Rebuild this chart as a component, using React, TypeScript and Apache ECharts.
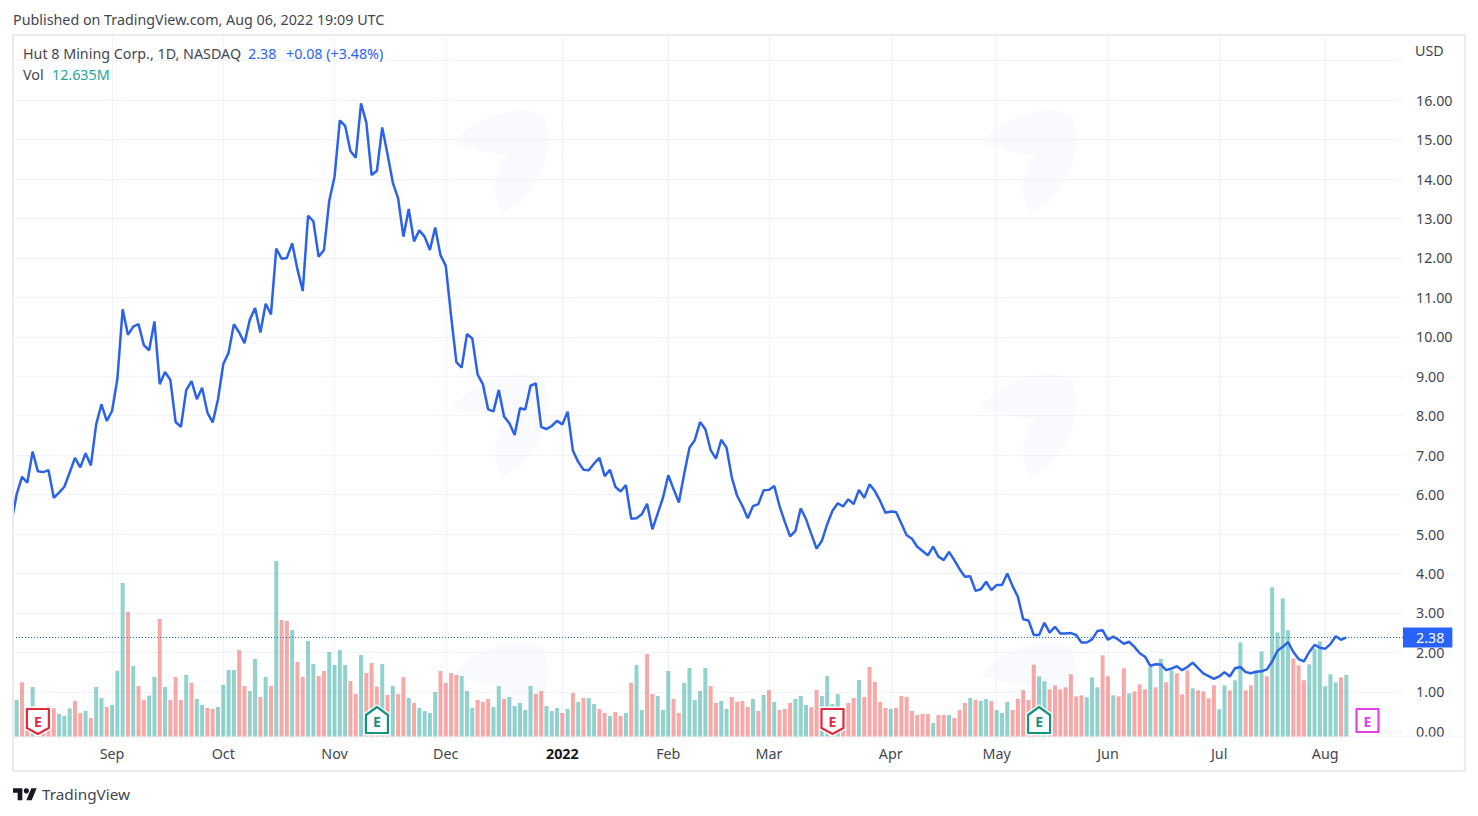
import React, { useEffect, useRef } from "react";
import * as echarts from "echarts";

const PRICES = [
  5.29, 6.01, 6.45, 6.30, 7.09, 6.59, 6.57, 6.62, 5.92, 6.05, 6.20, 6.56, 6.93, 6.69, 7.05, 6.74, 7.78, 8.29, 7.87, 8.12,
  8.93, 10.70, 10.05, 10.26, 10.32, 9.79, 9.66, 10.39, 8.80, 9.11, 8.91, 7.84, 7.72, 8.65, 8.88, 8.42, 8.71, 8.08, 7.83, 8.42,
  9.31, 9.60, 10.32, 10.11, 9.84, 10.43, 10.73, 10.11, 10.84, 10.57, 12.24, 11.98, 12.00, 12.37, 11.71, 11.16, 13.07, 12.93, 12.03, 12.20,
  13.45, 14.06, 15.49, 15.35, 14.71, 14.54, 15.92, 15.43, 14.10, 14.21, 15.31, 14.63, 13.91, 13.51, 12.54, 13.24, 12.42, 12.70, 12.54, 12.20,
  12.77, 12.07, 11.80, 10.53, 9.36, 9.22, 10.07, 9.96, 9.05, 8.80, 8.16, 8.11, 8.65, 7.98, 7.81, 7.51, 8.19, 8.16, 8.76, 8.82,
  7.72, 7.66, 7.74, 7.87, 7.78, 8.10, 7.11, 6.83, 6.63, 6.62, 6.79, 6.93, 6.47, 6.63, 6.20, 6.08, 6.24, 5.39, 5.40, 5.50,
  5.77, 5.12, 5.52, 5.92, 6.49, 6.14, 5.80, 6.52, 7.19, 7.38, 7.84, 7.66, 7.13, 6.91, 7.39, 7.19, 6.43, 5.97, 5.71, 5.40,
  5.71, 5.76, 6.11, 6.12, 6.22, 5.71, 5.31, 4.94, 5.08, 5.65, 5.38, 5.00, 4.63, 4.83, 5.25, 5.59, 5.78, 5.70, 5.88, 5.76,
  6.12, 5.92, 6.26, 6.09, 5.84, 5.54, 5.57, 5.56, 5.27, 4.97, 4.88, 4.68, 4.57, 4.46, 4.68, 4.43, 4.34, 4.55, 4.34, 4.11,
  3.92, 3.93, 3.56, 3.60, 3.79, 3.58, 3.71, 3.71, 4.00, 3.68, 3.41, 2.84, 2.81, 2.44, 2.44, 2.75, 2.50, 2.65, 2.48, 2.48,
  2.49, 2.44, 2.25, 2.25, 2.33, 2.54, 2.56, 2.32, 2.40, 2.32, 2.22, 2.27, 2.14, 1.98, 1.89, 1.66, 1.70, 1.69, 1.55, 1.59,
  1.65, 1.55, 1.63, 1.74, 1.60, 1.47, 1.40, 1.33, 1.39, 1.50, 1.39, 1.60, 1.63, 1.50, 1.47, 1.51, 1.52, 1.57, 1.77, 2.04,
  2.14, 2.26, 2.01, 1.83, 1.77, 2.01, 2.19, 2.12, 2.09, 2.21, 2.41, 2.32, 2.38,
];

const VOLUMES = [
  5.70, 7.54, 11.14, 5.50, 10.19, 6.18, 5.16, 6.31, 5.84, 4.69, 4.28, 5.84, 7.33, 4.89, 5.30, 3.87, 10.19, 7.94, 6.11, 6.52,
  13.51, 31.37, 25.53, 14.46, 10.39, 7.54, 8.42, 12.22, 24.04, 10.19, 7.54, 12.22, 7.54, 12.63, 11.00, 7.74, 6.52, 5.91, 5.70, 6.11,
  10.59, 13.65, 13.65, 17.72, 10.39, 9.37, 15.89, 8.15, 12.22, 10.39, 35.85, 23.83, 23.63, 21.80, 15.28, 12.22, 19.56, 14.87, 12.43, 13.44,
  17.31, 14.67, 17.72, 14.67, 11.41, 8.76, 16.70, 13.04, 15.07, 10.25, 14.87, 8.56, 10.39, 8.76, 12.22, 7.94, 6.93, 5.91, 5.30, 4.89,
  9.17, 13.44, 11.00, 13.04, 12.63, 12.43, 9.37, 5.91, 7.54, 7.13, 7.74, 6.11, 10.39, 7.74, 8.15, 6.31, 6.93, 5.50, 10.39, 8.76,
  9.37, 6.31, 5.30, 5.91, 4.89, 5.70, 8.96, 7.13, 7.94, 7.94, 6.72, 5.70, 4.89, 4.28, 5.09, 4.28, 4.89, 11.00, 14.67, 5.50,
  16.91, 8.76, 8.35, 5.50, 13.44, 7.74, 4.89, 11.00, 14.06, 7.54, 9.37, 14.06, 10.39, 6.93, 7.33, 5.70, 8.15, 7.20, 7.33, 6.11,
  7.74, 5.30, 8.56, 9.57, 7.13, 5.50, 5.70, 6.93, 7.74, 8.35, 6.52, 6.11, 9.57, 8.35, 12.43, 6.72, 8.76, 5.50, 6.93, 7.94,
  11.61, 8.15, 14.26, 11.20, 7.13, 5.91, 5.70, 5.91, 8.35, 8.15, 5.30, 4.48, 4.69, 4.69, 2.85, 4.48, 4.48, 4.48, 3.87, 5.50,
  6.93, 7.94, 7.54, 7.33, 7.74, 7.33, 5.50, 4.89, 7.13, 5.50, 7.74, 9.57, 7.54, 14.73, 12.36, 11.34, 9.71, 10.52, 9.71, 10.12,
  12.77, 8.28, 8.49, 8.08, 12.15, 10.12, 16.64, 12.36, 8.49, 8.28, 13.99, 8.89, 9.30, 10.73, 9.71, 14.26, 10.12, 15.96, 11.14, 13.58,
  12.97, 8.69, 13.58, 9.91, 9.51, 9.30, 7.88, 10.52, 5.64, 10.52, 9.51, 11.54, 19.28, 9.51, 10.52, 13.58, 17.45, 12.36, 30.49, 21.32,
  28.25, 21.73, 16.02, 14.60, 11.54, 14.80, 17.99, 19.49, 10.32, 12.77, 11.14, 12.15, 12.635,
];

// t = rising (teal) volume bar, r = falling (red) volume bar
const VOLUME_SIDES = [
  "t", "trrtrrrrtt", "trrtrttrtt", "trtrrttrtr", "rrtrttrrtt", "ttrrttrtrt", "rrtrrttrrt", "tttrrtrrrt", "rtrrtrtttt", "rrrrtttrrr",
  "ttrtttttrr", "tttrtrtrtt", "rrtrrtrttr", "rtttrrtttt", "trrttrrrrt", "rtrtrrrttt", "rrttttrrrt", "rrrrrtrrrr", "rrrtrrtrrr",
  "trttrtttrr", "rrrttrrrrr", "rrtttrrtrr", "trrrtrtrtr", "rrtrrrrttr", "ttrrttrttt", "trrrtttttt", "rt",
].join("");

const MONTH_INDEX = [19, 40, 61, 82, 104, 124, 143, 166, 186, 207, 228, 248];
const MONTH_LABELS = ["Sep", "Oct", "Nov", "Dec", "2022", "Feb", "Mar", "Apr", "May", "Jun", "Jul", "Aug"];
const PRICE_TICKS = [0, 1, 2, 3, 4, 5, 6, 7, 8, 9, 10, 11, 12, 13, 14, 15, 16];
const PRICE_GRID = [...PRICE_TICKS, 17];
const LAST_PRICE = 2.38;

const EARNINGS_INDEX = [5, 69, 155, 194, 256];
const EARNINGS_KIND = ["miss", "beat", "miss", "beat", "next"];

const TEAL = "rgba(38,166,154,0.5)";
const RED = "rgba(239,83,80,0.5)";
const FONT = "'Noto Sans', sans-serif";
const TEXT = "#434651";
const BLUE = "#2962ff";
const FS = 14.3;

const EARNING_COLORS: Record<string, string> = { miss: "#e2293f", beat: "#14947f", next: "#e040e8" };
const WATERMARKS = [
  [-82, 108], [452, 108], [980, 108],
  [-82, 372], [452, 372], [980, 372],
  [452, 640], [980, 640],
];

echarts.graphic.registerShape(
  "tvWatermark",
  echarts.graphic.extendPath(
    "M0 36 C20 8 70 -6 92 8 C104 42 88 88 50 104 C38 84 42 62 56 48 C36 44 16 40 0 36Z",
    {}
  )
);
echarts.graphic.registerShape(
  "tvLogo",
  echarts.graphic.extendPath("M14 22H7V11H0V4h14v18zM28 22h-8l7.5-18h8L28 22z", {})
);

function renderEarning(params: any, api: any) {
  const kind = EARNINGS_KIND[params.dataIndex];
  const color = EARNING_COLORS[kind];
  const p = api.coord([api.value(0), 0]);
  const cx = p[0];
  const base = p[1];
  let points: number[][];
  if (kind === "miss") {
    points = [[cx - 11, base - 28], [cx + 11, base - 28], [cx + 11, base - 9], [cx, base - 3], [cx - 11, base - 9]];
  } else if (kind === "beat") {
    points = [[cx - 11, base - 22], [cx, base - 30], [cx + 11, base - 22], [cx + 11, base - 4], [cx - 11, base - 4]];
  } else {
    points = [[cx - 11, base - 28], [cx + 11, base - 28], [cx + 11, base - 5], [cx - 11, base - 5]];
  }
  return {
    type: "group",
    children: [
      {
        type: "polygon",
        shape: { points },
        style: { fill: "#ffffff", stroke: "#ffffff", lineWidth: 5, lineJoin: "round" },
      },
      {
        type: "polygon",
        shape: { points },
        style: { fill: "#ffffff", stroke: color, lineWidth: 2.2, lineJoin: "round" },
      },
      {
        type: "text",
        style: {
          x: cx,
          y: base - 16,
          text: "E",
          fill: color,
          fontFamily: FONT,
          fontSize: 14,
          fontWeight: 700,
          align: "center",
          verticalAlign: "middle",
        },
      },
    ],
  };
}

export default function App() {
  const ref = useRef<HTMLDivElement>(null);

  useEffect(() => {
    document.body.style.margin = "0";
    const chart = echarts.init(ref.current!, undefined, { renderer: "svg" });
    const textStyle = (text: string, x: number, y: number, fill: string, fontSize = FS) => ({
      type: "text",
      x,
      y,
      z: 20,
      style: { text, fill, fontFamily: FONT, fontSize, verticalAlign: "middle" },
    });
    chart.setOption({
      animation: false,
      backgroundColor: "#ffffff",
      grid: { left: 13, top: 35, width: 1390, height: 702, containLabel: false },
      xAxis: {
        type: "value",
        min: 0.3,
        max: 262.7,
        axisLine: { show: false },
        axisTick: { show: false, customValues: MONTH_INDEX },
        splitLine: { show: true, lineStyle: { color: "#f0f3fa", width: 1 } },
        axisLabel: {
          customValues: MONTH_INDEX,
          margin: 9,
          color: TEXT,
          fontFamily: FONT,
          fontSize: FS,
          formatter: (v: number) => {
            const label = MONTH_LABELS[MONTH_INDEX.indexOf(v)];
            return label === "2022" ? `{b|${label}}` : label;
          },
          rich: { b: { fontWeight: 700, color: "#131722", fontFamily: FONT, fontSize: FS } },
        },
      },
      yAxis: [
        {
          type: "value",
          position: "right",
          min: -0.145,
          max: 17.652,
          axisLine: { show: false },
          axisTick: { show: false, customValues: PRICE_GRID },
          splitLine: { show: true, lineStyle: { color: "#f0f3fa", width: 1 } },
          axisLabel: {
            customValues: PRICE_TICKS,
            margin: 13,
            color: TEXT,
            fontFamily: FONT,
            fontSize: FS,
            formatter: (v: number) => v.toFixed(2),
          },
        },
        { type: "value", show: false, min: 0, max: 143, splitLine: { show: false } },
      ],
      series: [
        {
          type: "bar",
          name: "Vol",
          xAxisIndex: 0,
          yAxisIndex: 1,
          barWidth: 4,
          z: 1,
          data: VOLUMES.map((v, i) => ({
            value: [i, v],
            itemStyle: { color: VOLUME_SIDES[i] === "t" ? TEAL : RED },
          })),
        },
        {
          type: "line",
          name: "Hut 8 Mining Corp.",
          xAxisIndex: 0,
          yAxisIndex: 0,
          z: 3,
          showSymbol: false,
          symbol: "none",
          lineStyle: { color: "#2b62e8", width: 2.5 },
          data: PRICES.map((v, i) => [i, v]),
          markLine: {
            silent: true,
            symbol: ["none", "none"],
            lineStyle: { color: "#2a70c4", type: [1, 2], width: 1 },
            label: {
              show: true,
              position: "end",
              distance: 0,
              formatter: () => LAST_PRICE.toFixed(2),
              backgroundColor: BLUE,
              color: "#ffffff",
              fontFamily: FONT,
              fontSize: FS,
              lineHeight: 14,
              padding: [3, 8, 3, 13],
            },
            data: [{ yAxis: LAST_PRICE }],
          },
        },
        {
          type: "custom",
          name: "Earnings",
          xAxisIndex: 0,
          yAxisIndex: 1,
          z: 5,
          clip: false,
          renderItem: renderEarning,
          encode: { x: 0, y: 1 },
          data: EARNINGS_INDEX.map((i) => [i, 0]),
        },
      ],
      graphic: {
        elements: [
          ...WATERMARKS.map(([x, y]) => ({
            type: "tvWatermark",
            x,
            y,
            z: -5,
            silent: true,
            style: { fill: "#f9fafe" },
          })),
          {
            type: "rect",
            z: 9,
            silent: true,
            shape: { x: 0, y: 0, width: 13, height: 816 },
            style: { fill: "#ffffff" },
          },
          {
            type: "rect",
            z: 10,
            silent: true,
            shape: { x: 13, y: 35, width: 1452, height: 736 },
            style: { fill: "none", stroke: "#e9ebf0", lineWidth: 2 },
          },
          {
            type: "line",
            z: 10,
            silent: true,
            shape: { x1: 13, y1: 737, x2: 1465, y2: 737 },
            style: { stroke: "#f0f3fa", lineWidth: 1 },
          },
          textStyle("Published on TradingView.com, Aug 06, 2022 19:09 UTC", 13, 19, TEXT),
          textStyle("Hut 8 Mining Corp., 1D, NASDAQ", 23, 53.5, TEXT),
          textStyle("2.38", 248, 53.5, BLUE),
          textStyle("+0.08 (+3.48%)", 286, 53.5, BLUE),
          textStyle("Vol", 23, 74, TEXT),
          textStyle("12.635M", 52, 74, "#26a69a"),
          textStyle("USD", 1415, 50, TEXT),
          textStyle("TradingView", 42, 794, TEXT, 15.3),
          {
            type: "tvLogo",
            x: 13,
            y: 785.5,
            scaleX: 0.667,
            scaleY: 0.667,
            z: 20,
            style: { fill: "#131722" },
          },
          {
            type: "circle",
            z: 20,
            shape: { cx: 13 + 20 * 0.667, cy: 785.5 + 8 * 0.667, r: 4 * 0.667 },
            style: { fill: "#131722" },
          },
        ],
      },
    });
    return () => chart.dispose();
  }, []);

  return (
    <div
      ref={ref}
      style={{ position: "absolute", left: 0, top: 0, width: 1478, height: 816, background: "#ffffff" }}
    />
  );
}
